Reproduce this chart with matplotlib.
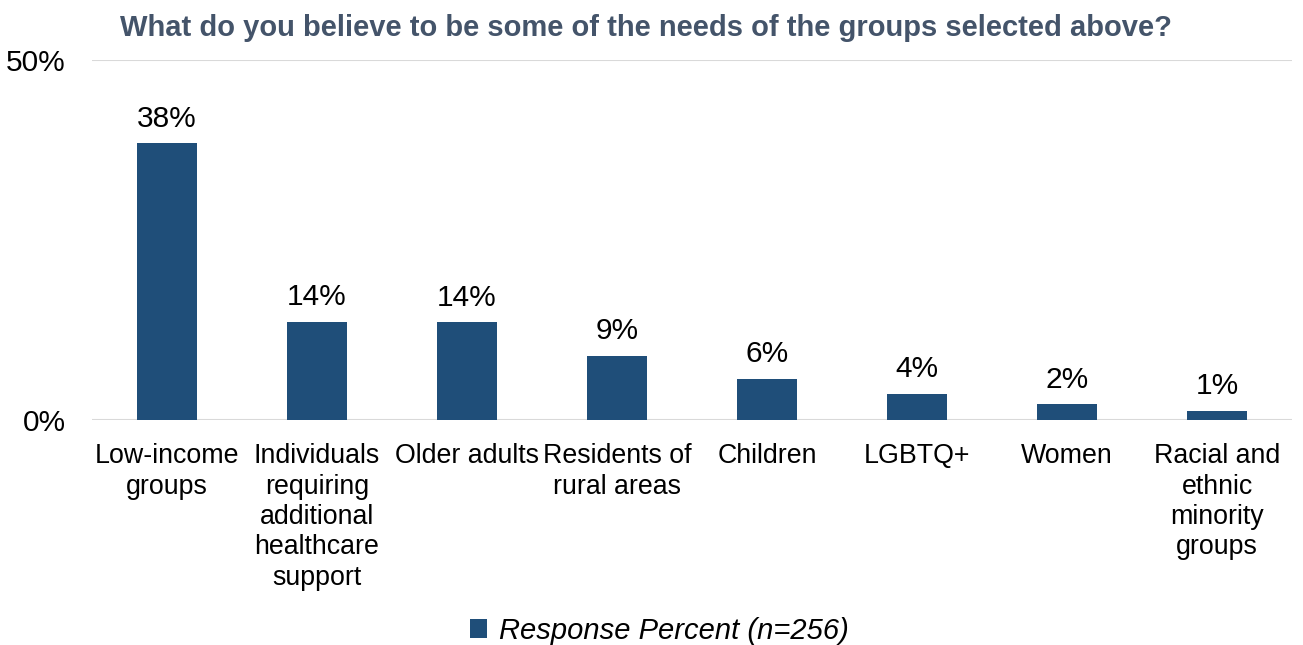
import matplotlib
matplotlib.use("Agg")
import matplotlib.pyplot as plt
import numpy as np

plt.rcParams["font.family"] = ["Liberation Sans", "DejaVu Sans"]

# ── data ────────────────────────────────────────────────────────────────────
categories = [
    "Low-income\ngroups",
    "Individuals\nrequiring\nadditional\nhealthcare\nsupport",
    "Older adults",
    "Residents of\nrural areas",
    "Children",
    "LGBTQ+",
    "Women",
    "Racial and\nethnic\nminority\ngroups",
]
values = [38.4, 13.6, 13.5, 8.9, 5.7, 3.6, 2.1, 1.2]
value_labels = ["38%", "14%", "14%", "9%", "6%", "4%", "2%", "1%"]
y_ticks = [0, 50]
y_tick_labels = ["0%", "50%"]

BAR_COLOR = "#1F4E79"
TITLE_COLOR = "#44546A"
GRID_COLOR = "#D9D9D9"

fig = plt.figure(figsize=(13.03, 6.45), dpi=100)
ax = fig.add_axes([0.0706, 0.3496, 0.9210, 0.5574])

x = np.arange(len(categories))
bars = ax.bar(x, values, width=0.4, color=BAR_COLOR, zorder=3,
              label="Response Percent (n=256)")

for xi, v, lab in zip(x, values, value_labels):
    ax.text(xi, v + 1.5, lab, ha="center", va="bottom", fontsize=21.5, color="black")

ax.set_xlim(-0.5, len(categories) - 0.5)
ax.set_ylim(0, 50)
ax.set_yticks(y_ticks)
ax.set_yticklabels(y_tick_labels, fontsize=21.5)
ax.set_xticks(x)
ax.set_xticklabels(categories, fontsize=19.3, linespacing=1.22, va="top")
ax.tick_params(axis="both", length=0)
ax.tick_params(axis="x", pad=17)
ax.tick_params(axis="y", pad=19)

ax.grid(axis="y", color=GRID_COLOR, lw=1.5, zorder=0)
for s in ax.spines.values():
    s.set_visible(False)

fig.text(0.496, 0.957, "What do you believe to be some of the needs of the groups selected above?",
         ha="center", va="center", fontsize=21, fontweight="bold", color=TITLE_COLOR)

leg = fig.legend(handles=[bars], loc="center", bbox_to_anchor=(0.506, 0.022),
                 frameon=False, handlelength=0.6, handleheight=0.6, handletextpad=0.4,
                 prop={"size": 21, "style": "italic"})

fig.savefig("out.png", dpi=100)
